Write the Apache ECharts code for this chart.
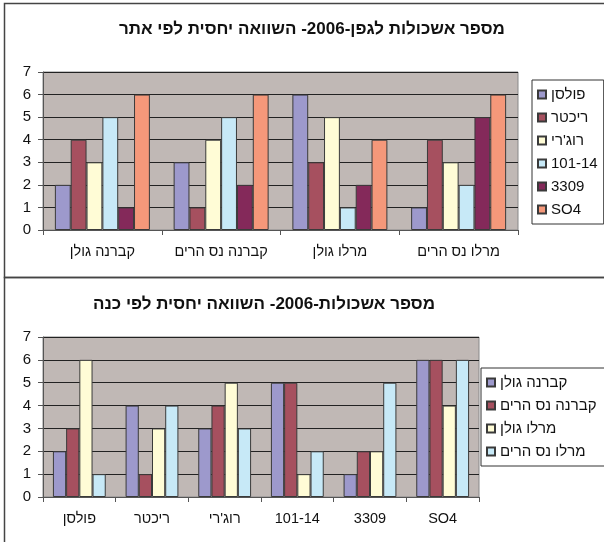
<!DOCTYPE html>
<html>
<head>
<meta charset="utf-8">
<script src="https://cdn.jsdelivr.net/npm/echarts@6/dist/echarts.min.js"></script>
<style>
  html, body { margin: 0; padding: 0; background: #fff; }
  #chart { width: 604px; height: 542px; }
</style>
</head>
<body>
<div id="chart"></div>
<script>
// Vineyard sites (wine + region)
const sites = ['קברנה גולן', 'קברנה נס הרים', 'מרלו גולן', 'מרלו נס הרים'];
// Rootstocks
const rootstocks = ['פולסן', 'ריכטר', "רוג'רי", '101-14', '3309', 'SO4'];

// Relative cluster count per vine, 2006 — one array per rootstock, ordered by site
const paulsen  = [2, 3, 6, 1];
const richter  = [4, 1, 3, 4];
const ruggeri  = [3, 4, 5, 3];
const r101_14  = [5, 5, 1, 2];
const r3309    = [1, 2, 2, 5];
const so4      = [6, 6, 4, 6];

const yTicks = [0, 1, 2, 3, 4, 5, 6, 7];

const rootstockValues = [paulsen, richter, ruggeri, r101_14, r3309, so4];
const rootstockColors = ['#9D99CC', '#A6505F', '#FFFCD6', '#C7E9F7', '#84295A', '#F5987A'];
const siteColors = ['#9D99CC', '#A6505F', '#FFFCD6', '#C7E9F7'];

const FONT = '"Liberation Sans", Arial, sans-serif';

const chart = echarts.init(document.getElementById('chart'), null, { renderer: 'canvas' });

function yAxisFor(gridIndex) {
  return {
    type: 'value', gridIndex: gridIndex,
    min: yTicks[0], max: yTicks[yTicks.length - 1], interval: 1,
    axisLine: { show: true, lineStyle: { color: '#555', width: 1 } },
    axisTick: { show: true, length: 5, lineStyle: { color: '#555' } },
    axisLabel: { color: '#111', fontSize: 15, fontFamily: FONT, margin: 12 },
    splitLine: { show: true, lineStyle: { color: '#222', width: 1 } }
  };
}
function xAxisFor(gridIndex, cats) {
  return {
    type: 'category', gridIndex: gridIndex, data: cats,
    axisLine: { show: true, lineStyle: { color: '#555', width: 1 } },
    axisTick: { show: true, length: 5, lineStyle: { color: '#555' } },
    axisLabel: { color: '#111', fontSize: 14.5, fontFamily: FONT, margin: 14, interval: 0, hideOverlap: false }
  };
}

const barItem = (color) => ({ color: color, borderColor: '#3a3a3a', borderWidth: 1 });

const series = [];
// By site: one series per rootstock
rootstocks.forEach((name, i) => {
  series.push({
    type: 'bar', name: name, xAxisIndex: 0, yAxisIndex: 0,
    data: rootstockValues[i],
    barGap: '0%', barCategoryGap: '20%',
    itemStyle: barItem(rootstockColors[i])
  });
});
// By rootstock: one series per site
sites.forEach((name, s) => {
  series.push({
    type: 'bar', name: name, xAxisIndex: 1, yAxisIndex: 1,
    data: rootstockValues.map(v => v[s]),
    barGap: '0%', barCategoryGap: '27.3%',
    itemStyle: barItem(siteColors[s])
  });
});

const legendBase = {
  orient: 'vertical', icon: 'rect', itemWidth: 8, itemHeight: 8,
  itemGap: 6,
  backgroundColor: '#fff', borderColor: '#333', borderWidth: 1,
  textStyle: { color: '#111', fontSize: 15, fontFamily: FONT, lineHeight: 17 },
  borderRadius: 0
};

chart.setOption({
  animation: false,
  textStyle: { fontFamily: FONT },
  title: [
    {
      text: 'מספר אשכולות לגפן-2006- השוואה יחסית לפי אתר',
      left: 307, top: 16, textAlign: 'center',
      textStyle: { fontSize: 17, fontWeight: 'bold', color: '#111', fontFamily: FONT }
    },
    {
      text: 'מספר אשכולות-2006- השוואה יחסית לפי כנה',
      left: 259, top: 291, textAlign: 'center',
      textStyle: { fontSize: 17, fontWeight: 'bold', color: '#111', fontFamily: FONT }
    }
  ],
  legend: [
    Object.assign({}, legendBase, {
      data: rootstocks, left: 532, top: 80, padding: [6, 6, 6, 5]
    }),
    Object.assign({}, legendBase, {
      data: sites, left: 481, top: 368, padding: [6, 9, 6, 5]
    })
  ],
  grid: [
    { left: 43, top: 72, width: 475, height: 158, show: true,
      backgroundColor: '#C0B8B5', borderColor: '#888', borderWidth: 1 },
    { left: 43, top: 337, width: 436, height: 160, show: true,
      backgroundColor: '#C0B8B5', borderColor: '#888', borderWidth: 1 }
  ],
  xAxis: [xAxisFor(0, sites), xAxisFor(1, rootstocks)],
  yAxis: [yAxisFor(0), yAxisFor(1)],
  graphic: [
    { type: 'rect', silent: true, z: -1,
      shape: { x: 4.5, y: 3.5, width: 700, height: 274 },
      style: { fill: null, stroke: '#444', lineWidth: 1.5 } },
    { type: 'rect', silent: true, z: -1,
      shape: { x: 4.5, y: 277.5, width: 700, height: 300 },
      style: { fill: null, stroke: '#444', lineWidth: 1.5 } }
  ],
  series: series
});
</script>
</body>
</html>
